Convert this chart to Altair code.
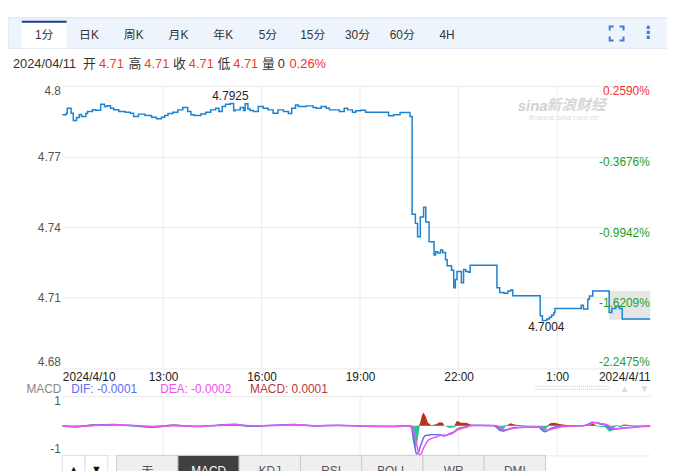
import altair as alt
import pandas as pd

# ---------------- data ----------------
# minutes since 2024-04-10 00:00 (values > 1440 are on 2024-04-11)
minute = [596, 603, 605, 612, 616, 622, 627, 631, 639, 642, 651, 657, 666, 673, 678, 684, 690, 699, 711, 720,
          726, 735, 747, 759, 768, 777, 783, 789, 798, 807, 816, 825, 831, 837, 849, 858, 867, 876, 882, 888,
          894, 903, 909, 912, 921, 927, 930, 935, 939, 945, 954, 963, 972, 981, 990, 1000, 1009, 1015, 1022, 1027,
          1042, 1054, 1060, 1069, 1078, 1084, 1102, 1111, 1117, 1126, 1132, 1141, 1150, 1192, 1201, 1213, 1231, 1235, 1241, 1245,
          1250, 1256, 1260, 1266, 1275, 1278, 1282, 1287, 1291, 1296, 1299, 1307, 1311, 1314, 1317, 1325, 1329, 1333, 1338, 1341,
          1390, 1395, 1403, 1410, 1415, 1419, 1469, 1473, 1481, 1486, 1490, 1494, 1496, 1544, 1548, 1556, 1559, 1565, 1595, 1600,
          1607, 1614, 1619, 1670]
price = [4.7877, 4.7884, 4.7905, 4.7884, 4.7853, 4.7866, 4.7878, 4.7870, 4.7883, 4.7891, 4.7899, 4.7896, 4.7922, 4.7912, 4.7916, 4.7905, 4.7899, 4.7891, 4.7888, 4.7884,
         4.7870, 4.7880, 4.7874, 4.7867, 4.7860, 4.7867, 4.7874, 4.7883, 4.7888, 4.7898, 4.7908, 4.7891, 4.7877, 4.7874, 4.7881, 4.7888, 4.7898, 4.7905, 4.7891, 4.7912,
         4.7922, 4.7925, 4.7894, 4.7898, 4.7908, 4.7895, 4.7924, 4.7902, 4.7895, 4.7891, 4.7912, 4.7905, 4.7898, 4.7884, 4.7898, 4.7891, 4.7883, 4.7905, 4.7919, 4.7912,
         4.7915, 4.7908, 4.7905, 4.7912, 4.7905, 4.7898, 4.7891, 4.7905, 4.7898, 4.7888, 4.7894, 4.7896, 4.7888, 4.7873, 4.7877, 4.7887, 4.7870, 4.7455, 4.7416, 4.7359,
         4.7443, 4.7485, 4.7422, 4.7338, 4.7282, 4.7296, 4.7290, 4.7303, 4.7292, 4.7262, 4.7236, 4.7217, 4.7143, 4.7178, 4.7212, 4.7164, 4.7220, 4.7212, 4.7208, 4.7238,
         4.7143, 4.7122, 4.7119, 4.7129, 4.7133, 4.7109, 4.7024, 4.7004, 4.7010, 4.7017, 4.7027, 4.7038, 4.7055, 4.7068, 4.7052, 4.7094, 4.7108, 4.7129, 4.7038, 4.7055,
         4.7063, 4.7055, 4.7010, 4.7010]
prev_close = 4.7876
box_minute = [1595, 1670]
box_price = [4.7129, 4.7007]

tick_minutes = [596, 780, 960, 1140, 1320, 1500, 1670]
grid_minutes = [780, 960, 1140, 1320, 1500]
date_labels = ["2024/4/10", "2024/4/11"]
price_ticks = [4.68, 4.71, 4.74, 4.77, 4.80]

macd_minute = [596, 620, 650, 690, 720, 760, 800, 840, 880, 910, 940, 980, 1020, 1060, 1100, 1150, 1200, 1228, 1234, 1236,
               1240, 1243, 1246, 1249, 1253, 1256, 1260, 1264, 1270, 1279, 1285, 1291, 1294, 1303, 1312, 1317, 1324, 1334, 1343, 1366,
               1384, 1390, 1395, 1401, 1408, 1415, 1424, 1447, 1466, 1471, 1477, 1482, 1487, 1495, 1504, 1520, 1547, 1560, 1565, 1572,
               1579, 1588, 1595, 1601, 1608, 1615, 1622, 1637, 1655, 1670]
dif = [0.00, -0.04, 0.02, 0.04, 0.01, -0.05, 0.02, -0.03, 0.02, 0.05, -0.02, 0.02, 0.04, -0.01, 0.02, -0.02, -0.03, 0.00, -0.05, -0.25,
       -0.70, -0.95, -0.92, -0.75, -0.55, -0.40, -0.33, -0.32, -0.30, -0.30, -0.30, -0.33, -0.35, -0.27, -0.20, -0.12, -0.07, -0.03, 0.02, 0.01,
       0.00, -0.05, -0.15, -0.18, -0.13, -0.09, -0.06, -0.04, -0.04, -0.12, -0.20, -0.17, -0.10, -0.05, -0.02, 0.00, 0.00, 0.08, 0.12, 0.10,
       0.06, 0.02, -0.08, -0.13, -0.10, -0.09, -0.07, -0.05, -0.02, -0.01]
dea = [0.00, -0.02, 0.00, 0.03, 0.02, -0.03, 0.00, -0.02, 0.01, 0.03, 0.00, 0.01, 0.03, 0.00, 0.01, -0.01, -0.02, -0.01, -0.01, -0.08,
       -0.35, -0.60, -0.85, -1.00, -0.90, -0.75, -0.62, -0.50, -0.43, -0.38, -0.33, -0.32, -0.32, -0.30, -0.22, -0.15, -0.10, -0.05, 0.00, 0.01,
       0.01, 0.00, -0.07, -0.12, -0.14, -0.11, -0.08, -0.05, -0.04, -0.06, -0.11, -0.15, -0.13, -0.09, -0.05, -0.02, 0.00, 0.04, 0.09, 0.11,
       0.08, 0.05, 0.00, -0.08, -0.11, -0.09, -0.08, -0.06, -0.03, -0.02]
hist = [0.00, -0.04, 0.04, 0.02, -0.02, -0.04, 0.04, -0.02, 0.02, 0.04, -0.04, 0.02, 0.02, -0.02, 0.02, -0.02, -0.02, 0.02, -0.08, -0.50,
        -0.70, -0.72, -0.40, 0.05, 0.35, 0.45, 0.30, 0.10, 0.02, 0.05, 0.12, 0.10, 0.00, -0.08, -0.05, 0.17, 0.10, 0.10, 0.03, 0.00,
        -0.01, -0.10, -0.17, -0.12, 0.02, 0.08, 0.03, 0.01, -0.02, -0.15, -0.20, -0.05, 0.08, 0.10, 0.06, 0.02, 0.00, 0.06, 0.08, -0.02,
        -0.03, -0.05, -0.20, -0.15, 0.02, -0.05, 0.04, 0.02, 0.01, 0.01]
macd_ticks = [-1, 1]
macd_legend = ["DIF: -0.0001", "DEA: -0.0002", "MACD: 0.0001"]

period_tabs = ["1分", "日K", "周K", "月K", "年K", "5分", "15分", "30分", "60分", "4H"]
indicator_tabs = ["无", "MACD", "KDJ", "RSI", "BOLL", "WR", "DMI"]
arrow_buttons = ["▲", "▼"]
info_parts = ["2024/04/11", "开", "4.71", "高", "4.71", "收", "4.71", "低", "4.71", "量", "0", "0.26%"]

# ---------------- layout / style ----------------
FONT = "Arial, 'Liberation Sans', 'Noto Sans CJK SC', sans-serif"
W, H = 595, 374
T_SCALE = alt.Scale(domain=[596, 1670])
P_SCALE = alt.Scale(domain=[4.68, 4.80], range=[286, 0])
M_SCALE = alt.Scale(domain=[-1, 1], range=[374, 314])
GRID = "#ebebeb"
BLUE = "#1a82d2"

price_df = pd.DataFrame({"minute": minute, "price": price})
macd_df = pd.DataFrame({"minute": macd_minute, "dif": dif, "dea": dea, "hist": hist})
macd_df["hpos"] = macd_df["hist"].clip(lower=0)
macd_df["hneg"] = macd_df["hist"].clip(upper=0)
grid_df = pd.DataFrame({"minute": grid_minutes})
box_df = pd.DataFrame({"m0": [box_minute[0]], "m1": [box_minute[1]], "p0": [box_price[0]], "p1": [box_price[1]]})
hi_df = price_df.loc[[price_df["price"].idxmax()]].copy()
hi_df["label"] = hi_df["price"].map("{:.4f}".format)
lo_df = price_df.loc[[price_df["price"].idxmin()]].copy()
lo_df["label"] = lo_df["price"].map("{:.4f}".format)
one = pd.DataFrame({"k": [0]})

x_label_expr = (f"datum.value == {tick_minutes[0]} ? '{date_labels[0]}' : "
                f"datum.value == {tick_minutes[-1]} ? '{date_labels[1]}' : "
                "(floor(datum.value / 60) % 24) + ':00'")

# ---------------- main price panel ----------------
main_grid = alt.Chart(grid_df).mark_rule(color=GRID, strokeWidth=1).encode(
    x=alt.X("minute:Q", scale=T_SCALE, axis=None),
    y=alt.YDatum(datum=price_ticks[0], type="quantitative", scale=P_SCALE, axis=None),
    y2=alt.Y2Datum(datum=price_ticks[-1]),
)

right_axis = alt.Axis(
    orient="right", values=price_ticks, title=None, grid=False, domain=False, ticks=False,
    labelExpr=f"replace(format((datum.value / {prev_close} - 1) * 100, '.4f'), '\u2212', '-') + '%'",
    labelAlign="right", labelPadding=-1, labelFontSize=12, labelFlush=False,
    labelBaseline={"condition": {"test": f"datum.value < {price_ticks[0] + 0.01}", "value": "bottom"}, "value": "top"},
    labelColor={"condition": {"test": f"datum.value > {prev_close}", "value": "#ee3333"}, "value": "#1e9e1e"},
    zindex=1,
)
box = alt.Chart(box_df).mark_rect(color="#e6e6e6").encode(
    x=alt.X("m0:Q", scale=T_SCALE, axis=None), x2="m1:Q",
    y=alt.Y("p0:Q", scale=P_SCALE, axis=right_axis), y2="p1:Q",
)

line = alt.Chart(price_df).mark_line(interpolate="step-after", color=BLUE, strokeWidth=1.5).encode(
    x=alt.X("minute:Q", scale=T_SCALE, axis=alt.Axis(
        orient="bottom", offset=-(H - 286), values=tick_minutes, labelExpr=x_label_expr,
        labelFlush=True, labelOverlap=False, grid=False, domain=False, ticks=False,
        labelColor="#222", labelFontSize=12, labelPadding=3, title=None)),
    y=alt.Y("price:Q", scale=P_SCALE, axis=alt.Axis(
        orient="left", values=price_ticks, format=".2~f", labelFlush=True, grid=True, gridColor=GRID,
        domain=False, ticks=False, labelColor="#555", labelFontSize=12, labelPadding=2, title=None)),
)

hi_text = alt.Chart(hi_df).mark_text(baseline="bottom", dy=-1, fontSize=12, color="#222").encode(
    x=alt.X("minute:Q", scale=T_SCALE, axis=None),
    y=alt.Y("price:Q", scale=P_SCALE, axis=None), text="label:N")
lo_text = alt.Chart(lo_df).mark_text(baseline="top", dy=2, dx=4, fontSize=12, color="#222").encode(
    x=alt.X("minute:Q", scale=T_SCALE, axis=None),
    y=alt.Y("price:Q", scale=P_SCALE, axis=None), text="label:N")

# ---------------- MACD panel ----------------
macd_grid = alt.Chart(grid_df).mark_rule(color=GRID, strokeWidth=1).encode(
    x=alt.X("minute:Q", scale=T_SCALE, axis=None),
    y=alt.YDatum(datum=macd_ticks[0], type="quantitative", scale=M_SCALE, axis=None),
    y2=alt.Y2Datum(datum=macd_ticks[1]),
)
hpos = alt.Chart(macd_df).mark_area(color="#b8321c", interpolate="linear").encode(
    x=alt.X("minute:Q", scale=T_SCALE, axis=None),
    y=alt.Y("hpos:Q", scale=M_SCALE, axis=None), y2=alt.Y2Datum(datum=0))
hneg = alt.Chart(macd_df).mark_area(color="#33c08f", interpolate="linear").encode(
    x=alt.X("minute:Q", scale=T_SCALE, axis=None),
    y=alt.Y("hneg:Q", scale=M_SCALE, axis=None), y2=alt.Y2Datum(datum=0))
dif_line = alt.Chart(macd_df).mark_line(color="#5f6cf5", strokeWidth=1.5, interpolate="monotone").encode(
    x=alt.X("minute:Q", scale=T_SCALE, axis=None),
    y=alt.Y("dif:Q", scale=M_SCALE, axis=alt.Axis(
        orient="left", values=macd_ticks, labelExpr="'' + datum.value", labelFlush=True, grid=True, gridColor=GRID,
        domain=False, ticks=False, labelColor="#555", labelFontSize=12, labelPadding=2, title=None)))
dea_line = alt.Chart(macd_df).mark_line(color="#ee55ee", strokeWidth=1.5, interpolate="monotone").encode(
    x=alt.X("minute:Q", scale=T_SCALE, axis=None),
    y=alt.Y("dea:Q", scale=M_SCALE, axis=None))


# ---------------- chrome (tabs, info line, legend, watermark) ----------------
def px_text(df, **kw):
    return alt.Chart(df).mark_text(**kw).encode(
        x=alt.X("px:Q", scale=None, axis=None), y=alt.Y("py:Q", scale=None, axis=None),
        text="txt:N", color=alt.Color("col:N", scale=None, legend=None))


tab_bar = alt.Chart(one).mark_rect(fill="#eef4fc", stroke="#d9e4f2", strokeWidth=1).encode(
    x=alt.value(-55), x2=alt.value(W + 20), y=alt.value(-69), y2=alt.value(-38))
tab_scale = alt.Scale(domain=period_tabs, range=[-41, 412], paddingInner=0, paddingOuter=0)
tabs_df = pd.DataFrame({"tab": period_tabs})
active_df = tabs_df.iloc[:1]
active_tab = alt.Chart(active_df).mark_rect(fill="white").encode(
    x=alt.X("tab:N", scale=tab_scale, axis=None), y=alt.value(-65), y2=alt.value(-38))
active_bar = alt.Chart(active_df).mark_rect(fill="#1f3b8c").encode(
    x=alt.X("tab:N", scale=tab_scale, axis=None), y=alt.value(-66), y2=alt.value(-64))
tab_text = alt.Chart(tabs_df).mark_text(fontSize=12, color="#333").encode(
    x=alt.X("tab:N", scale=tab_scale, axis=None), y=alt.value(-51), text="tab:N")
full_icon = alt.Chart(one).mark_rect(filled=False, stroke="#3b7fd4", strokeWidth=2,
                                     strokeDash=[4, 6, 8, 6, 8, 6, 8, 6, 4]).encode(
    x=alt.value(554), x2=alt.value(568), y=alt.value(-60), y2=alt.value(-46))
menu_icon = alt.Chart(one).mark_text(text="⋮", font="DejaVu Sans", fontSize=17, fontWeight="bold",
                                     color="#3b7fd4").encode(x=alt.value(593), y=alt.value(-53))

info_df = pd.DataFrame({
    "txt": info_parts,
    "px": [-50, 21, 37, 67, 83, 112, 128, 157, 173, 202, 218, 230],
    "py": [-22] * 12,
    "col": ["#333", "#333", "#e8451f", "#333", "#e8451f", "#333", "#e8451f", "#333", "#e8451f", "#333", "#333", "#f03030"],
})
info = px_text(info_df, align="left", baseline="middle", fontSize=13)

macd_title = alt.Chart(one).mark_text(text="MACD", align="right", fontSize=12, color="#888").encode(
    x=alt.value(-1), y=alt.value(307))
legend_df = pd.DataFrame({"txt": macd_legend, "px": [9, 99, 190], "py": [307] * 3,
                          "col": ["#5f6cf5", "#ee55ee", "#b73a3a"]})
legend = px_text(legend_df, align="left", baseline="middle", fontSize=12)

scroll_df = pd.DataFrame({"y": [304, 307]})
scroll = alt.Chart(scroll_df).mark_rule(color="#cccccc", strokeDash=[1, 1]).encode(
    x=alt.value(479), x2=alt.value(555), y=alt.Y("y:Q", scale=None, axis=None))
scroll_arrows = px_text(pd.DataFrame({"txt": ["▲", "▼"], "px": [569, 589], "py": [307, 307], "col": ["#dddddd"] * 2}),
                        fontSize=10, baseline="middle")

wm = pd.DataFrame({"txt": ["sina", "新浪财经"], "px": [461, 490], "py": [20, 19], "col": ["#d0d0d0", "#d6d6d6"]})
watermark = px_text(wm, align="left", baseline="middle", fontSize=15, fontStyle="italic", fontWeight="bold")
watermark2 = px_text(pd.DataFrame({"txt": ["finance.sina.com.cn"], "px": [472], "py": [33], "col": ["#dddddd"]}),
                     align="left", baseline="middle", fontSize=8, fontStyle="italic")

arrow_scale = alt.Scale(domain=arrow_buttons, range=[0, 46], paddingInner=0, paddingOuter=0)
arrow_df = pd.DataFrame({"b": arrow_buttons})
arrows_rect = alt.Chart(arrow_df).mark_rect(fill="white", stroke="#dddddd").encode(
    x=alt.X("b:N", scale=arrow_scale, axis=None), y=alt.value(374), y2=alt.value(400))
arrows_text = alt.Chart(arrow_df).mark_text(fontSize=11, color="#111").encode(
    x=alt.X("b:N", scale=arrow_scale, axis=None), y=alt.value(389), text="b:N")

ind_scale = alt.Scale(domain=indicator_tabs, range=[55, 489], paddingInner=0, paddingOuter=0)
ind_df = pd.DataFrame({"t": indicator_tabs, "active": [t == "MACD" for t in indicator_tabs]})
ind_rect = alt.Chart(ind_df).mark_rect(stroke="#cccccc").encode(
    x=alt.X("t:N", scale=ind_scale, axis=None), y=alt.value(374), y2=alt.value(400),
    fill=alt.condition("datum.active", alt.value("#404040"), alt.value("#efefef")))
ind_text = alt.Chart(ind_df).mark_text(fontSize=12).encode(
    x=alt.X("t:N", scale=ind_scale, axis=None), y=alt.value(390), text="t:N",
    color=alt.condition("datum.active", alt.value("white"), alt.value("#555")))

chart = alt.layer(
    tab_bar, active_tab, active_bar, tab_text, full_icon, menu_icon, info,
    watermark, watermark2,
    box, main_grid, line, hi_text, lo_text,
    macd_grid, hpos, hneg, dif_line, dea_line, macd_title, legend, scroll, scroll_arrows,
    arrows_rect, arrows_text, ind_rect, ind_text,
).resolve_scale(x="independent", y="independent").resolve_axis(x="independent", y="independent").properties(
    width=W, height=H,
    autosize=alt.AutoSizeParams(type="none"),
    padding={"left": 55, "top": 76, "right": 17, "bottom": 13},
    background="white",
).configure(font=FONT).configure_view(stroke="transparent")

chart.save("out.html", embed_options={"renderer": "svg", "actions": False})
